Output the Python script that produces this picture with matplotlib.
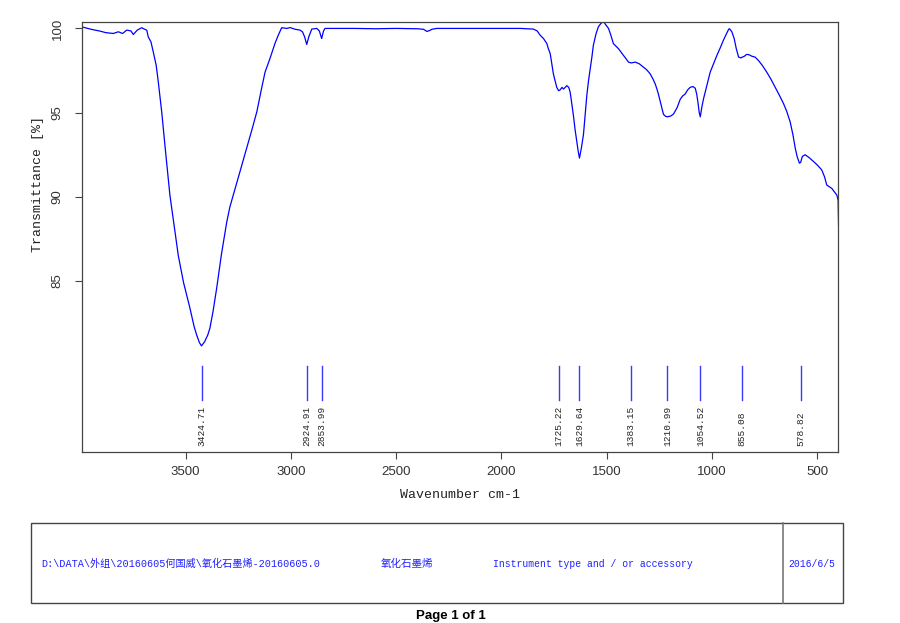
import matplotlib
matplotlib.use('Agg')
import matplotlib.pyplot as plt
from matplotlib.patches import Rectangle
from matplotlib.lines import Line2D

# спектр ИК (волновое число, пропускание)
wavenumber = [3996, 3950, 3907, 3880, 3844, 3820, 3800, 3780, 3760, 3749, 3730, 3709, 3695,
              3685, 3678, 3665, 3654, 3640, 3630, 3614, 3595, 3575, 3555, 3535, 3510, 3480,
              3460, 3448, 3435, 3425, 3410, 3395, 3385, 3370, 3353, 3330, 3305, 3290, 3274,
              3240, 3210, 3185, 3162, 3140, 3123, 3100, 3076, 3060, 3044, 3020, 3004, 2980,
              2957, 2945, 2935, 2925, 2915, 2901, 2877, 2865, 2854, 2845, 2838, 2800, 2700,
              2600, 2500, 2400, 2370, 2354, 2340, 2330, 2307, 2200, 2100, 2000, 1911, 1880,
              1848, 1830, 1816, 1800, 1784, 1777, 1768, 1753, 1745, 1737, 1728, 1721, 1712,
              1705, 1689, 1680, 1673, 1665, 1658, 1650, 1642, 1635, 1629, 1620, 1610, 1602,
              1594, 1586, 1578, 1570, 1563, 1550, 1539, 1527, 1515, 1503, 1491, 1480, 1468,
              1456, 1444, 1432, 1420, 1408, 1396, 1383, 1364, 1345, 1325, 1310, 1293, 1280,
              1269, 1261, 1254, 1242, 1230, 1220, 1211, 1195, 1182, 1165, 1150, 1138, 1127,
              1115, 1103, 1090, 1079, 1072, 1066, 1060, 1055, 1048, 1040, 1032, 1020, 1008,
              992, 976, 960, 945, 930, 920, 916, 905, 894, 884, 873, 862, 855, 845, 836, 826,
              810, 795, 779, 760, 739, 720, 699, 680, 660, 645, 628, 615, 604, 595, 584, 578,
              570, 557, 540, 517, 500, 478, 465, 454, 442, 430, 418, 406, 400, 398]
transmittance = [100.1, 99.95, 99.84, 99.75, 99.7, 99.8, 99.7, 99.9, 99.85, 99.64, 99.9, 100.04, 99.95,
                 99.9, 99.5, 99.2, 98.6, 97.8, 96.8, 95.05, 92.6, 90.1, 88.3, 86.5, 84.9, 83.4,
                 82.3, 81.8, 81.35, 81.15, 81.4, 81.8, 82.2, 83.2, 84.56, 86.6, 88.5, 89.4, 90.1,
                 91.6, 92.9, 94.0, 95.05, 96.4, 97.4, 98.2, 99.1, 99.6, 100.04, 100.0, 100.05, 99.95,
                 99.9, 99.8, 99.5, 99.05, 99.5, 99.96, 100.0, 99.85, 99.4, 99.85, 100.0, 100.0, 100.0,
                 99.98, 100.0, 99.98, 99.95, 99.82, 99.88, 99.95, 100.0, 100.0, 100.0, 100.0, 100.0, 99.98,
                 99.96, 99.85, 99.6, 99.4, 99.1, 98.8, 98.5, 97.3, 96.9, 96.5, 96.3, 96.35, 96.5,
                 96.4, 96.6, 96.5, 96.2, 95.5, 94.85, 94.0, 93.3, 92.7, 92.3, 92.9, 93.7, 94.9,
                 96.04, 96.9, 97.6, 98.3, 99.0, 99.7, 100.1, 100.3, 100.4, 100.2, 100.0, 99.6, 99.1,
                 98.95, 98.8, 98.6, 98.4, 98.2, 98.0, 97.95, 98.0, 97.9, 97.7, 97.55, 97.3, 97.0,
                 96.7, 96.4, 96.1, 95.5, 94.9, 94.78, 94.75, 94.8, 94.92, 95.3, 95.8, 96.0, 96.1,
                 96.35, 96.5, 96.55, 96.45, 96.1, 95.6, 95.0, 94.75, 95.3, 95.8, 96.2, 96.8, 97.4,
                 97.9, 98.4, 98.85, 99.3, 99.7, 99.95, 99.98, 99.8, 99.4, 98.8, 98.3, 98.25, 98.3, 98.35, 98.45, 98.45,
                 98.35, 98.3, 98.1, 97.8, 97.4, 97.0, 96.5, 96.05, 95.55, 95.1, 94.45, 93.7, 92.9, 92.4, 92.0, 92.05,
                 92.4, 92.5, 92.35, 92.1, 91.9, 91.6, 91.2, 90.7, 90.6, 90.5, 90.3, 90.1, 89.8, 88.3]

# отмеченные пики
peaks = [3424.71, 2924.91, 2853.99, 1725.22, 1629.64, 1383.15, 1210.99, 1054.52, 855.08, 578.82]

x_ticks = [3500, 3000, 2500, 2000, 1500, 1000, 500]
y_ticks = [85, 90, 95, 100]

footer_path = r"D:\DATA\外组\20160605何国威\氧化石墨烯-20160605.0"
footer_name = "氧化石墨烯"
footer_instr = "Instrument type and / or accessory"
footer_date = "2016/6/5"

mono = ['Liberation Mono', 'Noto Sans CJK SC']
plt.rcParams['font.family'] = ['Liberation Sans', 'Noto Sans CJK SC']

fig = plt.figure(figsize=(9, 6.23), dpi=100)
ax = fig.add_axes([0.0908, 0.2745, 0.8407, 0.6907])

ax.plot(wavenumber, transmittance, color='#0000ff', linewidth=0.9)

# вертикальные метки пиков с подписями
for p in peaks:
    ax.plot([p, p], [77.95, 79.95], color='#3a3aff', linewidth=1)
    ax.text(p, 75.2, f"{p:.2f}", rotation=90, ha='center', va='bottom',
            fontsize=6.8, family='Liberation Mono', color='#222222')

ax.set_xlim(3994, 399)
ax.set_ylim(74.85, 100.4)
ax.set_xticks(x_ticks)
ax.set_yticks(y_ticks)
ax.tick_params(axis='x', length=5, width=0.8, pad=5, labelsize=9.5, colors='#444444', labelcolor='#333333')
ax.tick_params(axis='y', length=5, width=0.8, pad=8, labelsize=9.5, colors='#444444', labelcolor='#333333',
               labelrotation=90)
for lab in ax.get_yticklabels():
    lab.set_va('center')
for s in ax.spines.values():
    s.set_color('#444444')
    s.set_linewidth(0.9)

ax.set_xlabel('Wavenumber cm-1', family='Liberation Mono', fontsize=9.5, color='#222222', va='center')
ax.xaxis.set_label_coords(0.5, -0.1)
ax.set_ylabel('Transmittance [%]', family='Liberation Mono', fontsize=9.5, color='#222222', va='center')
ax.yaxis.set_label_coords(-0.0575, 0.623)

# нижняя табличка
fig.patches.append(Rectangle((0.0341, 0.0321), 0.9022, 0.1289, transform=fig.transFigure,
                             fill=False, edgecolor='#444444', linewidth=1))
fig.lines.append(Line2D([0.8697, 0.8697], [0.0321, 0.161], transform=fig.transFigure,
                        color='#777777', linewidth=1.2))

ty = 0.0947
fig.text(41.7 / 900, ty, footer_path, family=mono, fontsize=7.3, color='#2020ff', va='center')
fig.text(380.7 / 900, ty, footer_name, family=['Noto Sans CJK SC'], fontsize=7.6, color='#2020ff', va='center')
fig.text(493.3 / 900, ty, footer_instr, family=mono, fontsize=7, color='#2020ff', va='center')
fig.text(811.7 / 900, ty, footer_date, family=mono, fontsize=7, color='#2020ff', va='center', ha='center')

fig.text(0.5006, 0.0112, 'Page 1 of 1', fontsize=9.5, fontweight='bold', color='black',
         ha='center', va='center')

fig.savefig('out.png', dpi=100, facecolor='white')
